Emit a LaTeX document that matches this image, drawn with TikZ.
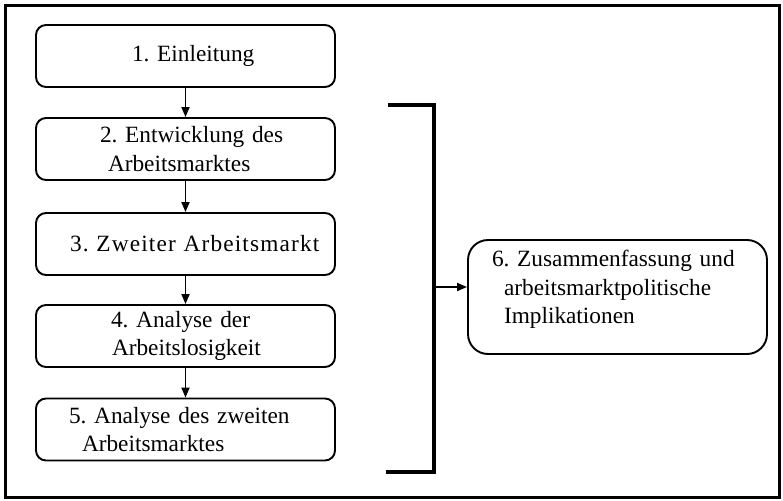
\documentclass[tikz,border=0pt]{standalone}
\usepackage{fontspec}
\setmainfont{Liberation Serif}
\usetikzlibrary{arrows.meta}
\frenchspacing
\begin{document}
\begin{tikzpicture}[x=1pt,y=-1pt,
  box/.style={draw, line width=1.9pt, rounded corners=10pt, inner xsep=0pt, inner ysep=0pt,
    text width=299pt, minimum height=62pt, align=left,
    font=\fontsize{23.3}{28.5}\selectfont},
  arr/.style={line width=1.8pt, -{Triangle[length=10pt,width=8pt]}},
  brk/.style={line width=3.2pt}]
\useasboundingbox (0,0) rectangle (783,500);
\draw[line width=3pt] (5,6) rectangle (779,497);
\node[box] (b1) at (185.5,56) {\hspace*{96pt}1. Einleitung};
\node[box] (b2) at (185.5,149) {\hspace*{64pt}2. Entwicklung des\\\hspace*{72pt}Arbeitsmarktes};
\node[box] (b3) at (185.5,244) {\hspace*{34pt}\addfontfeature{LetterSpace=5}3. Zweiter Arbeitsmarkt};
\node[box] (b4) at (185.5,336) {\hspace*{75pt}4. Analyse der\\\hspace*{76pt}Arbeitslosigkeit};
\node[box] (b5) at (185.5,429.5) {\hspace*{33pt}5. Analyse des zweiten\\\hspace*{46pt}Arbeitsmarktes};
\node[box, rounded corners=20pt, minimum height=114pt] (b6) at (617.5,297)
  {\hspace*{24pt}6. Zusammenfassung und\\\hspace*{36pt}arbeitsmarktpolitische\\\hspace*{36pt}Implikationen\rule[-20pt]{0pt}{0pt}};
\draw[arr] (b1) -- (b2);
\draw[arr] (b2) -- (b3);
\draw[arr] (b3) -- (b4);
\draw[arr] (b4) -- (b5);
\coordinate (bt0) at (388,105);
\coordinate (bt1) at (434,105);
\coordinate (bb1) at (434,472);
\coordinate (bb0) at (386,472);
\coordinate (bm) at (434,287);
\draw[brk] (bt0) -- (bt1) -- (bb1) -- (bb0);
\draw[arr] (bm) -- (bm -| b6.west);
\end{tikzpicture}
\end{document}
